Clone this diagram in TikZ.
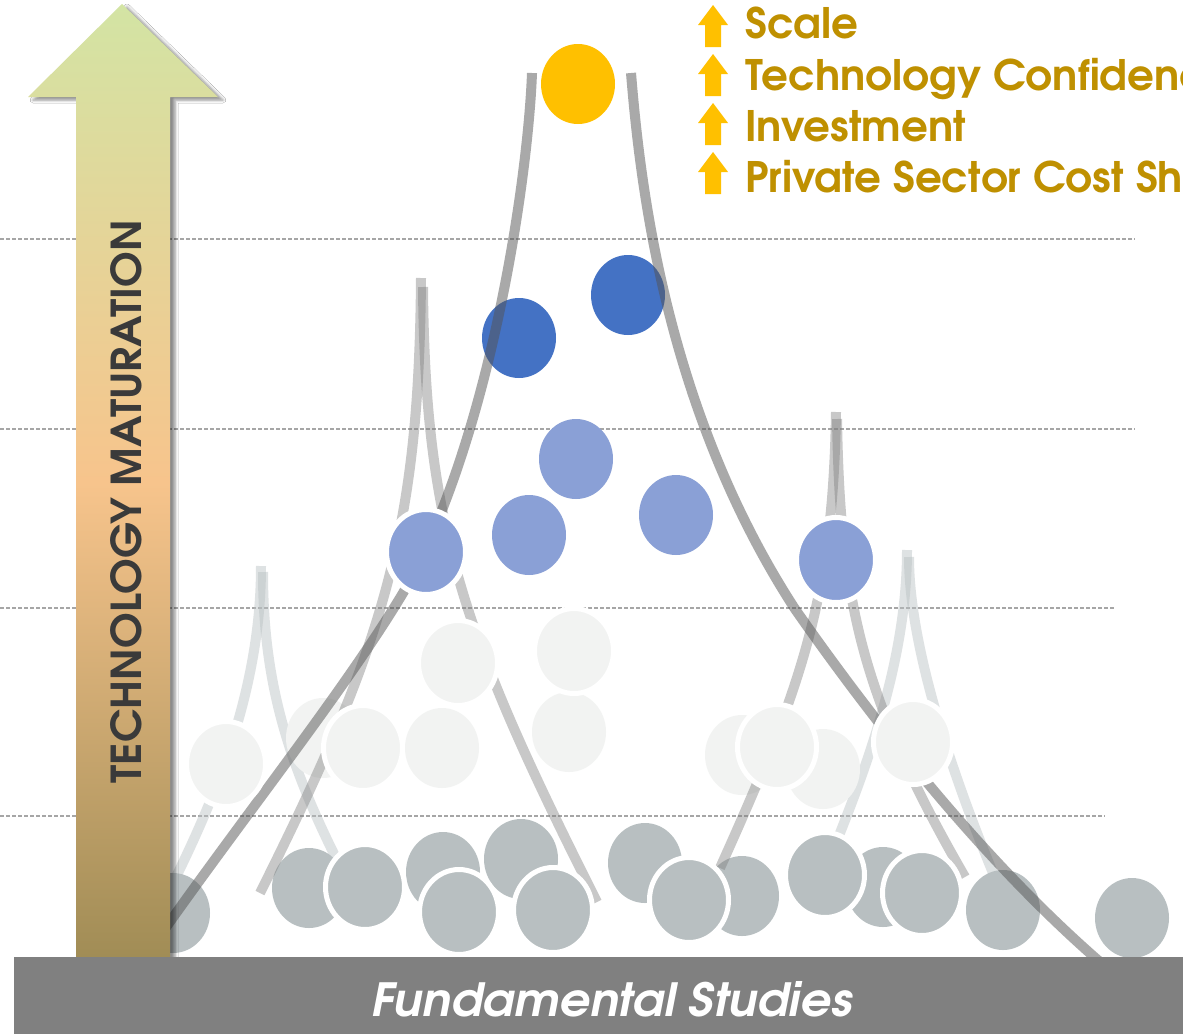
\documentclass[tikz,border=0pt]{standalone}
\usepackage{fontspec}
\usepackage{graphicx}
\newfontfamily\gothic{texgyreadventor}[Extension=.otf, UprightFont=*-regular, BoldFont=*-bold, ItalicFont=*-italic, BoldItalicFont=*-bolditalic]
\usetikzlibrary{shapes.geometric,shadows.blur}

\definecolor{yellowc}{HTML}{FFC000}
\definecolor{darkblue}{HTML}{4472C4}
\definecolor{lightblue}{HTML}{8AA0D6}
\definecolor{palec}{HTML}{F2F3F2}
\definecolor{grayc}{HTML}{B8BFC1}
\definecolor{goldtext}{HTML}{BF9000}
\definecolor{axistext}{HTML}{3A3A3A}
\definecolor{barc}{HTML}{808080}
\definecolor{gridc}{HTML}{A6A6A6}
\definecolor{arrtop}{HTML}{D3E4A4}
\definecolor{arrmid}{HTML}{F7C48C}
\definecolor{arrbot}{HTML}{A08C55}

\begin{document}
\begin{tikzpicture}[x=1pt,y=-1pt,
  dot/.style={ellipse, minimum width=74pt, minimum height=80pt, inner sep=0pt, draw=none},
  ringdot/.style={ellipse, minimum width=79pt, minimum height=85pt, inner sep=0pt, draw=white, line width=5pt},
  gridline/.style={draw=gridc, line width=1.2pt, dash pattern=on 4pt off 2pt},
  darkline/.style={draw=black!67, draw opacity=0.5, line width=10pt},
  medline/.style={draw=black!50, draw opacity=0.43, line width=10pt},
  lightline/.style={draw=grayc, draw opacity=0.45, line width=10pt},
  legtext/.style={font=\gothic\bfseries\fontsize{42}{42}\selectfont, text=goldtext, anchor=base west, inner sep=0pt},
  uparrow/.pic={\fill[yellowc] (0,0) -- (15,20) -- (8,20) -- (8,42) -- (-8,42) -- (-8,20) -- (-15,20) -- cycle;}
]
\useasboundingbox (0,0) rectangle (1183,1034);
\clip (0,0) rectangle (1183,1034);
\fill[white] (0,0) rectangle (1183,1034);

% level guides
\draw[gridline] (0,239) -- (1135,239);
\draw[gridline] (0,429) -- (1135,429);
\draw[gridline] (0,608) -- (1115,608);
\draw[gridline] (0,816) -- (1105,816);

% faint branches of the lowest spikes
\draw[lightline] (261,566) .. controls (261,680) and (222,785) .. (172,885);
\draw[lightline] (263,572) .. controls (263,680) and (287,760) .. (337,860);
\draw[lightline] (907,550) .. controls (907,650) and (874,748) .. (838,838);
\draw[lightline] (909,557) .. controls (909,650) and (956,785) .. (998,885);

% plain circles
\node[dot, fill=palec] (p1) at (323,738) {};
\node[dot, fill=palec] (p2) at (442,748) {};
\node[dot, fill=palec] (p3) at (569,732) {};
\node[dot, fill=palec] (p4) at (742,755) {};
\node[dot, fill=palec] (p5) at (823,769) {};

\node[dot, fill=grayc] (g1) at (173,913) {};
\node[dot, fill=grayc] (g2) at (309,888) {};
\node[dot, fill=grayc] (g3) at (443,872) {};
\node[dot, fill=grayc] (g4) at (521,859) {};
\node[dot, fill=grayc] (g5) at (645,863) {};
\node[dot, fill=grayc] (g6) at (742,896) {};
\node[dot, fill=grayc] (g7) at (883,887) {};
\node[dot, fill=grayc] (g8) at (1003,910) {};
\node[dot, fill=grayc] (g9) at (1132,918) {};

\node[dot, fill=lightblue] (lb1) at (576,459) {};
\node[dot, fill=lightblue] (lb2) at (529,535) {};
\node[dot, fill=lightblue] (lb3) at (676,515) {};

\node[dot, fill=darkblue] (db1) at (519,338) {};
\node[dot, fill=darkblue] (db2) at (628,295) {};

\node[dot, fill=yellowc] (yel) at (578,84) {};

% middle spikes
\draw[medline] (421,278) .. controls (419,530) and (385,643) .. (260,893);
\draw[medline] (423,287) .. controls (425,530) and (465,640) .. (597,902);
\draw[medline] (836,412) .. controls (833,600) and (801,688) .. (720,868);
\draw[medline] (837,419) .. controls (840,600) and (861,697) .. (965,877);

% main envelope
\draw[darkline] (532,73) .. controls (528,180) and (490,440) .. (403,593)
                .. controls (343,693) and (237,825) .. (150,950);
\draw[darkline] (631,73) .. controls (640,183) and (665,409) .. (795,609)
                .. controls (879,729) and (985,862) .. (1100,962);

% ringed circles on top
\node[ringdot, fill=palec] (q1) at (226,764) {};
\node[ringdot, fill=palec] (q2) at (363,748) {};
\node[ringdot, fill=palec] (q3) at (458,663) {};
\node[ringdot, fill=palec] (q4) at (574,651) {};
\node[ringdot, fill=palec] (q5) at (777,747) {};
\node[ringdot, fill=palec] (q6) at (913,742) {};

\node[ringdot, fill=grayc] (h1) at (365,887) {};
\node[ringdot, fill=grayc] (h2) at (459,912) {};
\node[ringdot, fill=grayc] (h3) at (553,910) {};
\node[ringdot, fill=grayc] (h4) at (689,900) {};
\node[ringdot, fill=grayc] (h5) at (825,875) {};
\node[ringdot, fill=grayc] (h6) at (922,893) {};

\node[ringdot, fill=lightblue] (kb1) at (426,552) {};
\node[ringdot, fill=lightblue] (kb2) at (836,560) {};

% maturation arrow (middle color has to follow top and bottom color)
\shade[top color=arrtop, bottom color=arrbot, middle color=arrmid,
       blur shadow={shadow xshift=5pt, shadow yshift=-3pt, shadow blur radius=3pt, shadow opacity=45}]
  (122,4) -- (218,97) -- (170,97) -- (170,962) -- (76,962) -- (76,97) -- (28,97) -- cycle;
\node[rotate=90, text=axistext, inner sep=0pt] (axis) at (126,501.5)
  {\resizebox{563pt}{31pt}{\gothic\bfseries TECHNOLOGY MATURATION}};

% base bar
\fill[barc] (14,957) rectangle (1183,1034);
\node[text=white, inner sep=0pt] (base) at (612,999.5)
  {\resizebox{480pt}{35pt}{\gothic\bfseries\itshape Fundamental Studies}};

% legend
\pic at (713,5) {uparrow};
\pic at (713,54) {uparrow};
\pic at (713,103) {uparrow};
\pic at (713,152) {uparrow};
\node[legtext] (l1) at (745,38) {Scale};
\node[legtext] (l2) at (745,90) {Technology Confidence};
\node[legtext] (l3) at (745,141) {Investment};
\node[legtext] (l4) at (745,192) {Private Sector Cost Share};
\end{tikzpicture}
\end{document}
